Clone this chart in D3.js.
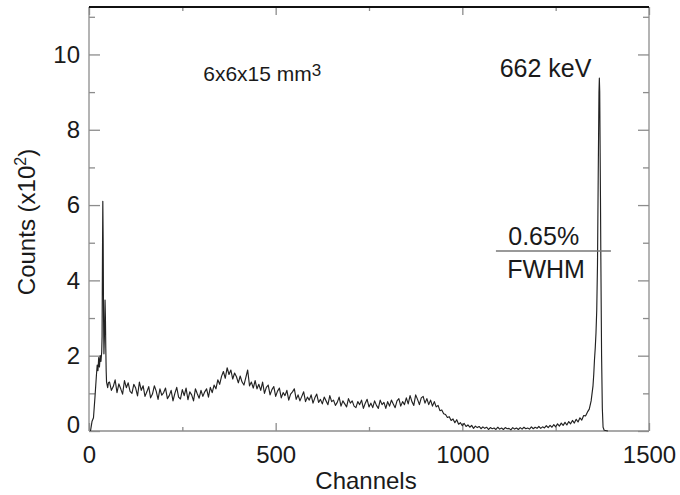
<!DOCTYPE html>
<html>
<head>
<meta charset="utf-8">
<script src="https://cdn.jsdelivr.net/npm/d3@7"></script>
<style>
  body { margin: 0; background: #fff; }
  text { font-family: "Liberation Sans", Arial, sans-serif; fill: #1a1a1a; }
</style>
</head>
<body>
<div id="chart"></div>
<script>
// axis ticks
const xMajor = [0, 500, 1000, 1500]
const xMinor = [250, 750, 1250]
const yMajor = [0, 2, 4, 6, 8, 10]
const yMinor = [1, 3, 5, 7, 9, 11]

// low-energy part (x-rays / backscatter), counts in x10^2
const lowChannels = [4, 8, 12, 16, 20, 22, 24, 26, 28, 30, 32, 34, 35, 36, 37, 38, 39, 40, 41, 42, 43, 44, 45, 46, 47, 48, 50, 52]
const lowCounts = [0.0, 0.25, 0.35, 0.9, 1.5, 1.75, 1.6, 1.95, 1.7, 2.0, 1.85, 2.1, 2.5, 4.5, 6.1, 5.0, 3.0, 2.05, 2.4, 2.8, 3.48, 3.0, 2.2, 1.6, 1.3, 1.25, 1.15, 1.28]

// compton continuum, channel 55 to 1350, every 5 channels
const contStart = 55
const contStep = 5
const contCounts = [
  1.30, 1.08, 1.18, 1.36, 1.02, 1.25, 1.12, 0.98, 1.34, 1.15,
  1.28, 1.05, 1.00, 1.24, 1.14, 0.93, 1.30, 1.08, 1.20, 0.92,
  1.04, 1.18, 0.88, 0.98, 1.20, 1.06, 0.84, 1.12, 0.95, 1.02,
  1.14, 0.86, 0.94, 1.08, 0.80, 1.00, 1.16, 0.90, 0.85, 1.10,
  0.94, 1.14, 0.83, 1.04, 0.96, 0.80, 1.12, 0.99, 0.87, 1.08,
  0.92, 1.04, 1.12, 0.90, 1.16, 1.02, 1.22, 1.12, 1.36, 1.24,
  1.45, 1.58, 1.40, 1.68, 1.50, 1.62, 1.38, 1.54, 1.44, 1.28,
  1.46, 1.30, 1.22, 1.42, 1.62, 1.20, 1.30, 1.14, 1.34, 1.12,
  1.24, 1.08, 1.30, 1.00, 1.16, 1.22, 0.96, 1.10, 1.18, 0.92,
  1.06, 1.14, 0.88, 1.02, 0.94, 1.08, 0.82, 0.98, 1.04, 1.12,
  0.84, 0.96, 0.80, 0.92, 1.04, 0.78, 0.90, 0.82, 0.96, 0.74,
  0.88, 0.98, 0.76, 0.84, 0.72, 0.90, 0.80, 0.70, 0.94, 0.78,
  0.82, 0.68, 0.76, 0.90, 0.66, 0.80, 0.72, 0.64, 0.86, 0.74,
  0.80, 0.66, 0.62, 0.78, 0.70, 0.82, 0.60, 0.74, 0.84, 0.64,
  0.74, 0.62, 0.80, 0.68, 0.60, 0.82, 0.70, 0.76, 0.60, 0.78,
  0.66, 0.82, 0.72, 0.62, 0.80, 0.86, 0.66, 0.78, 0.70, 0.88,
  0.72, 0.94, 0.78, 0.68, 0.96, 0.84, 0.70, 0.88, 0.92, 0.74,
  0.86, 0.70, 0.82, 0.66, 0.78, 0.64, 0.68, 0.54, 0.56, 0.46,
  0.44, 0.36, 0.38, 0.28, 0.32, 0.22, 0.30, 0.18, 0.22, 0.14,
  0.20, 0.12, 0.16, 0.10, 0.15, 0.07, 0.13, 0.09, 0.12, 0.06,
  0.11, 0.07, 0.10, 0.04, 0.09, 0.06, 0.08, 0.04, 0.10, 0.05,
  0.08, 0.04, 0.09, 0.06, 0.07, 0.03, 0.09, 0.05, 0.08, 0.04,
  0.09, 0.05, 0.10, 0.06, 0.08, 0.05, 0.11, 0.06, 0.10, 0.07,
  0.12, 0.07, 0.11, 0.08, 0.14, 0.09, 0.15, 0.10, 0.17, 0.11,
  0.19, 0.13, 0.21, 0.15, 0.23, 0.16, 0.25, 0.19, 0.28, 0.21,
  0.31, 0.24, 0.35, 0.29, 0.41, 0.40, 0.50, 0.58, 0.80, 1.20
]

// 662 keV photopeak
const peakChannels = [1352, 1354, 1356, 1358, 1360, 1362, 1364, 1366, 1367, 1368, 1370, 1371, 1373, 1375, 1377, 1380, 1390]
const peakCounts = [1.5, 1.9, 2.2, 2.6, 3.2, 4.4, 6.8, 9.0, 9.37, 9.0, 6.2, 4.6, 2.0, 0.6, 0.1, 0.02, 0.0]

var chart = {

	settings: {},

	init: () => {
		chart.settings.width = 680
		chart.settings.height = 495
		chart.settings.margin = { top: 7, right: 31, bottom: 64, left: 89 }
		chart.settings.grey = "#8c8c8c"
		chart.build()
	},

	build: () => {

		var s = chart.settings
		var w = s.width - s.margin.left - s.margin.right
		var h = s.height - s.margin.top - s.margin.bottom

		var svg = d3.select("#chart").append("svg")
			.attr("width", s.width)
			.attr("height", s.height)

		var g = svg.append("g")
			.attr("transform", `translate(${s.margin.left},${s.margin.top})`)

		var x = d3.scaleLinear().domain([0, 1500]).range([0, w])
		var y = d3.scaleLinear().domain([0, 11.26]).range([h, 0])

		// spectrum points
		var pts = []
		lowChannels.forEach((c, i) => pts.push([c, lowCounts[i]]))
		contCounts.forEach((v, i) => pts.push([contStart + i * contStep, v]))
		peakChannels.forEach((c, i) => pts.push([c, peakCounts[i]]))

		// bottom axis
		g.append("g").attr("class", "ax")
			.attr("transform", `translate(0,${h})`)
			.call(d3.axisBottom(x).tickValues(xMajor).tickFormat(d3.format("d")).tickSizeInner(-8).tickSizeOuter(0).tickPadding(15))
		g.append("g").attr("class", "ax")
			.attr("transform", `translate(0,${h})`)
			.call(d3.axisBottom(x).tickValues(xMinor).tickSizeInner(-4).tickSizeOuter(0).tickFormat(""))

		// top ticks
		g.append("g").attr("class", "ax")
			.call(d3.axisTop(x).tickValues(xMajor).tickSizeInner(-8).tickSizeOuter(0).tickFormat(""))
		g.append("g").attr("class", "ax")
			.call(d3.axisTop(x).tickValues(xMinor).tickSizeInner(-4).tickSizeOuter(0).tickFormat(""))

		// left axis
		g.append("g").attr("class", "ax")
			.call(d3.axisLeft(y).tickValues(yMajor).tickSizeInner(-11).tickSizeOuter(0).tickPadding(9))
		g.append("g").attr("class", "ax")
			.call(d3.axisLeft(y).tickValues(yMinor).tickSizeInner(-6).tickSizeOuter(0).tickFormat(""))

		// right axis
		g.append("g").attr("class", "ax")
			.attr("transform", `translate(${w},0)`)
			.call(d3.axisRight(y).tickValues(yMajor).tickSizeInner(-11).tickSizeOuter(0).tickFormat(""))
		g.append("g").attr("class", "ax")
			.attr("transform", `translate(${w},0)`)
			.call(d3.axisRight(y).tickValues(yMinor).tickSizeInner(-6).tickSizeOuter(0).tickFormat(""))

		g.selectAll(".ax .domain").remove()
		g.selectAll(".ax line").attr("stroke", s.grey).attr("stroke-width", 1.3)
		g.selectAll(".ax text")
			.attr("font-size", 24)
			.attr("font-family", "'Liberation Sans', Arial, sans-serif")
			.attr("fill", "#1a1a1a")

		// "0" on y axis sits a bit above the corner
		g.selectAll(".ax .tick text").filter(function(d) { return d === 0 && this.getAttribute("x") < 0 })
			.attr("dy", "0.05em")

		// frame
		g.append("line").attr("x1", 0).attr("x2", 0).attr("y1", 0).attr("y2", h)
			.attr("stroke", s.grey).attr("stroke-width", 1.3)
		g.append("line").attr("x1", 0).attr("x2", w).attr("y1", h).attr("y2", h)
			.attr("stroke", s.grey).attr("stroke-width", 1.3)
		g.append("line").attr("x1", w).attr("x2", w).attr("y1", 0).attr("y2", h)
			.attr("stroke", s.grey).attr("stroke-width", 1.3)
		g.append("line").attr("x1", 0).attr("x2", w).attr("y1", 0).attr("y2", 0)
			.attr("stroke", "#111").attr("stroke-width", 2)

		// spectrum
		var line = d3.line().x(d => x(d[0])).y(d => y(d[1]))

		g.append("path")
			.datum(pts)
			.attr("d", line)
			.attr("fill", "none")
			.attr("stroke", "#222")
			.attr("stroke-width", 1.15)
			.attr("stroke-linejoin", "round")

		// FWHM marker
		g.append("line")
			.attr("x1", x(1090)).attr("x2", x(1398))
			.attr("y1", y(4.78)).attr("y2", y(4.78))
			.attr("stroke", "#777").attr("stroke-width", 1.5)

		// annotations
		g.append("text").attr("x", x(1100)).attr("y", 70).attr("font-size", 25).text("662 keV")
		g.append("text").attr("x", x(1123)).attr("y", 238).attr("font-size", 25).text("0.65%")
		g.append("text").attr("x", x(1120)).attr("y", 271).attr("font-size", 25).text("FWHM")

		var dim = g.append("text").attr("x", x(306)).attr("y", 74).attr("font-size", 21)
		dim.append("tspan").text("6x6x15 mm")
		dim.append("tspan").attr("font-size", 17).attr("dy", -5).text("3")

		// axis titles
		svg.append("text")
			.attr("x", s.margin.left + w / 2 - 3)
			.attr("y", 489)
			.attr("text-anchor", "middle")
			.attr("font-size", 24)
			.text("Channels")

		var yt = svg.append("text")
			.attr("transform", `translate(35,222) rotate(-90)`)
			.attr("text-anchor", "middle")
			.attr("font-size", 24)
		yt.append("tspan").text("Counts (x10")
		yt.append("tspan").attr("font-size", 16).attr("dy", -9).text("2")
		yt.append("tspan").attr("dy", 9).text(")")
	}

}

chart.init()
</script>
</body>
</html>
